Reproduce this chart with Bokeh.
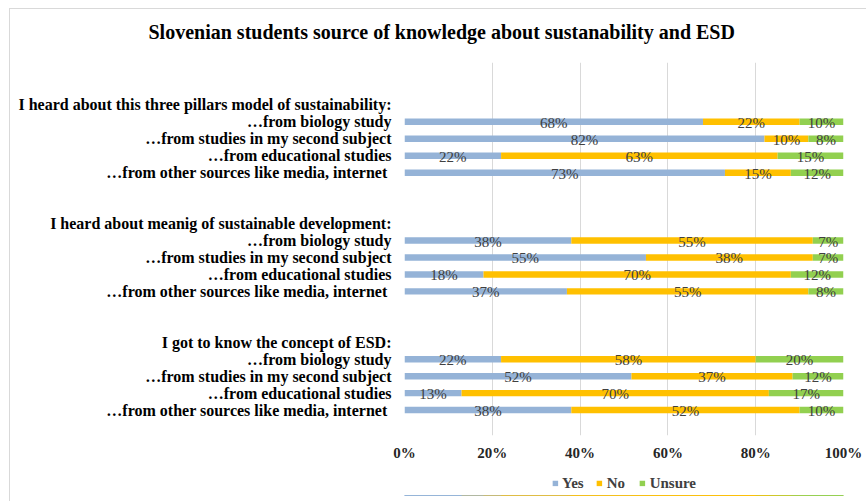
from bokeh.plotting import figure
from bokeh.layouts import column
from bokeh.models import (ColumnDataSource, Range1d, FixedTicker, PrintfTickFormatter,
                          Legend, LegendItem, InlineStyleSheet)
from bokeh.core.properties import value
from bokeh.embed import file_html
from bokeh.resources import INLINE

title = "Slovenian students source of knowledge about sustanability and ESD"
group_headers = [
    "I heard about this three pillars model of sustainability:",
    "I heard about meanig of sustainable development:",
    "I got to know the concept of ESD:",
]
sources = [
    "\u2026from biology study",
    "\u2026from studies in my second subject",
    "\u2026from educational studies",
    "\u2026from other sources like  media, internet",
]
series = ["Yes", "No", "Unsure"]
yes = [68, 82, 22, 73, 38, 55, 18, 37, 22, 51.7, 13, 38]
no = [22, 10, 63, 15, 55, 38, 70, 55, 58, 36.7, 70, 52]
unsure = [10, 8, 15, 12, 7, 7, 12, 8, 20, 11.6, 17, 10]
x_ticks = [0, 20, 40, 60, 80, 100]
colors = ["#95b3d7", "#ffc000", "#92d050"]

SERIF = "Liberation Serif"

# rows: 2 blank, header, 4 bars per group; one blank row at end
rows, overrides = [], {}
for g, head in enumerate(group_headers):
    h = 2 + 7 * g
    overrides[h] = head
    for k, s in enumerate(sources):
        rows.append(h + 1 + k)
        overrides[h + 1 + k] = s

src = ColumnDataSource(dict(row=rows, Yes=yes, No=no, Unsure=unsure))

p = figure(width=866, height=471, output_backend="svg", toolbar_location=None,
           x_range=Range1d(0, 100), y_range=Range1d(21.5, -0.5),
           min_border_left=404, min_border_right=23, min_border_top=61,
           min_border_bottom=36)
p.outline_line_color = None
p.background_fill_color = "white"
p.border_fill_color = "white"

bars = p.hbar_stack(series, y="row", height=0.38, color=colors, source=src,
                    line_color=None)

# percent labels
lx, ly, lt = [], [], []
for i, r in enumerate(rows):
    start = 0
    for v in (yes[i], no[i], unsure[i]):
        lx.append(start + v / 2)
        ly.append(r)
        lt.append(f"{round(v)}%")
        start += v
p.text(x=lx, y=ly, text=lt, text_align="center", text_baseline="middle",
       text_font=value(SERIF), text_font_size="15px", text_color="#404040", y_offset=1)

# axes
p.xaxis.ticker = FixedTicker(ticks=x_ticks)
p.xaxis.formatter = PrintfTickFormatter(format="%d%%")
p.xaxis.axis_line_color = None
p.xaxis.major_tick_line_color = None
p.xaxis.minor_tick_line_color = None
p.xaxis.major_label_standoff = 3
p.xaxis.major_label_text_font = SERIF
p.xaxis.major_label_text_font_style = "bold"
p.xaxis.major_label_text_font_size = "15px"
p.xaxis.major_label_text_color = "#262626"

p.yaxis.ticker = FixedTicker(ticks=sorted(overrides.keys()))
p.yaxis.major_label_overrides = overrides
p.yaxis.axis_line_color = None
p.yaxis.major_tick_line_color = None
p.yaxis.minor_tick_line_color = None
p.yaxis.major_label_standoff = 7
p.yaxis.major_label_text_font = SERIF
p.yaxis.major_label_text_font_style = "bold"
p.yaxis.major_label_text_font_size = "16px"
p.yaxis.major_label_text_color = "#000000"

p.xgrid.grid_line_color = "#d9d9d9"
p.ygrid.grid_line_color = None

# title
p.title.text = title
p.title.align = "left"
p.title.offset = -256
p.title.vertical_align = "middle"
p.title.standoff = 38
p.title.text_font = SERIF
p.title.text_font_style = "bold"
p.title.text_font_size = "20px"
p.title.text_color = "#000000"

# legend strip below the chart (frame 471..495 px of the page);
# the same stacked bars are drawn here but fall outside its visible range
lf = figure(width=866, height=30, output_backend="svg", toolbar_location=None,
            x_range=Range1d(0, 100), y_range=Range1d(100, 101),
            min_border_left=387, min_border_right=23, min_border_top=0,
            min_border_bottom=6, title_location=None,
            x_axis_location=None, y_axis_location=None)
lf.grid.visible = False
lf.outline_line_color = None
lf.border_fill_color = "white"
lf.background_fill_color = "white"
swatches = lf.hbar_stack(series, y="row", height=0.38, color=colors, source=src,
                         line_color=None)
lg = Legend(items=[LegendItem(label=s, renderers=[r]) for s, r in zip(series, swatches)],
            orientation="horizontal", location="center",
            glyph_width=7, glyph_height=7, label_standoff=4, spacing=12,
            padding=0, margin=0, border_line_color=None, background_fill_alpha=0,
            label_text_font=SERIF, label_text_font_style="bold",
            label_text_font_size="15px", label_text_color="#404040")
lf.add_layout(lg)

layout = column(p, lf, spacing=0)
# chart area border (light grey, as in the source)
layout.stylesheets = [InlineStyleSheet(css=""":host::after { content: ""; position: absolute;
  left: 9px; top: 8px; right: 0; bottom: 0;
  border-left: 1.5px solid #d9d9d9; border-top: 1.5px solid #d9d9d9;
  pointer-events: none; z-index: 10; }""")]

open("out.html", "w").write(file_html(layout, INLINE))
